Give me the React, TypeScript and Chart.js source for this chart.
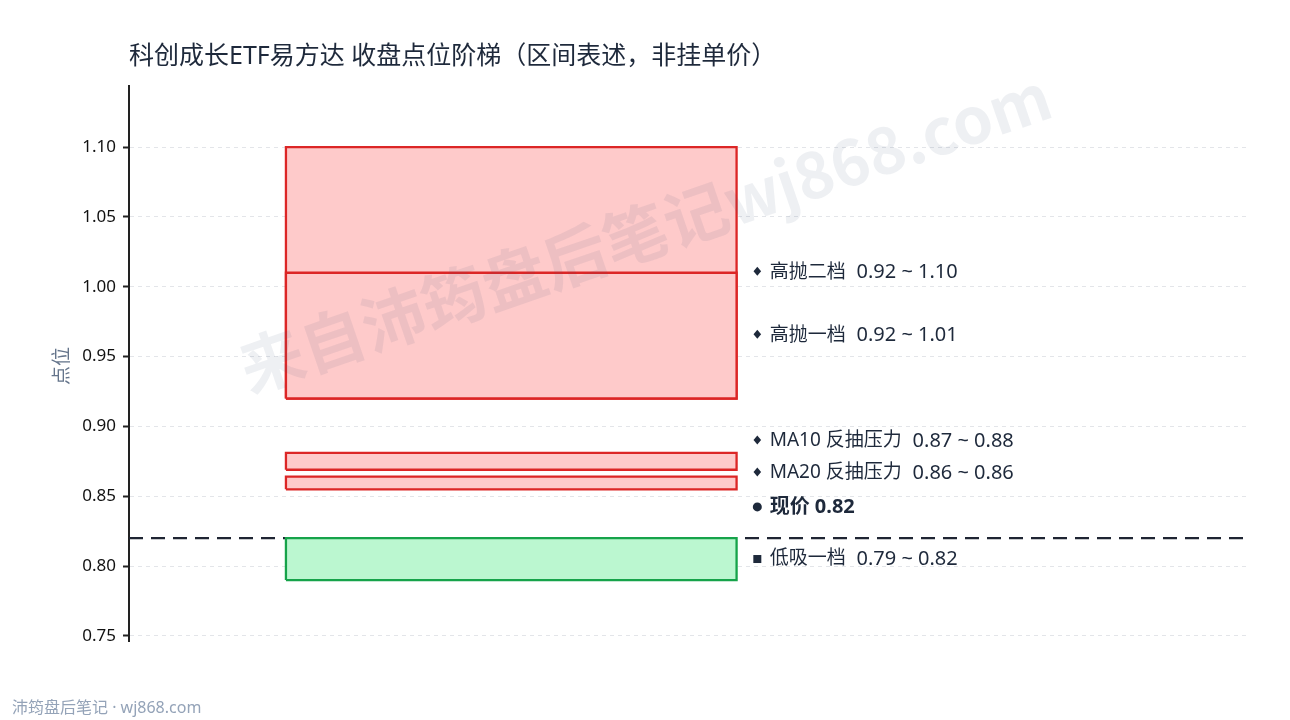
import React, { useEffect, useRef } from "react";
import { Chart, registerables } from "chart.js";

Chart.register(...registerables);

const titleText = "科创成长ETF易方达 收盘点位阶梯（区间表述，非挂单价）";
const yAxisTitle = "点位";
const footerText = "沛筠盘后笔记 · wj868.com";
const watermarkText = "来自沛筠盘后笔记wj868.com";

// zones: low / high
const zoneNames = ["高抛二档", "高抛一档", "MA10 反抽压力", "MA20 反抽压力", "低吸一档"];
const zoneLow = [0.92, 0.92, 0.869, 0.855, 0.79];
const zoneHigh = [1.1, 1.01, 0.881, 0.864, 0.82];
const zoneKind = ["red", "red", "red", "red", "green"];
const zoneLabelLow = ["0.92", "0.92", "0.87", "0.86", "0.79"];
const zoneLabelHigh = ["1.10", "1.01", "0.88", "0.86", "0.82"];
const zoneLabelLevel = [1.011, 0.966, 0.8903, 0.8674, 0.8058];
const zoneMarker = ["diamond", "diamond", "diamond", "diamond", "square"];

const currentPrice = 0.82;
const currentLabelLevel = 0.8431;

const boxStartX = 0.14;
const boxEndX = 0.542;
const labelMarkerX = 0.5605;
const labelTextX = 0.5715;

const yMin = 0.7464;
const yMax = 1.1437;
const yStep = 0.05;

const FONT = '"Noto Sans", "Noto Sans CJK SC", sans-serif';
const CJK = '"Noto Sans CJK SC", "Noto Sans", sans-serif';

export default function App() {
  const ref = useRef<HTMLCanvasElement | null>(null);

  useEffect(() => {
    document.body.style.margin = "0";
    const canvas = ref.current;
    if (!canvas) return;

    const datasets: any[] = [];
    for (let i = 0; i < zoneNames.length; i++) {
      const red = zoneKind[i] === "red";
      datasets.push({
        label: zoneNames[i],
        data: [
          { x: boxStartX, y: zoneLow[i] },
          { x: boxEndX, y: zoneLow[i] },
          { x: boxEndX, y: zoneHigh[i] },
          { x: boxStartX, y: zoneHigh[i] },
          { x: boxStartX, y: zoneLow[i] },
        ],
        showLine: true,
        fill: "shape",
        backgroundColor: red ? "#fecaca" : "#bbf7d0",
        borderColor: red ? "#dc2626" : "#16a34a",
        borderWidth: 2.3,
        pointRadius: 0,
        tension: 0,
      });
    }
    // reverse so the first zone (outer) gets drawn first and inner on top
    datasets.reverse();
    datasets.push({
      label: "现价",
      data: [
        { x: 0, y: currentPrice },
        { x: 1, y: currentPrice },
      ],
      showLine: true,
      fill: false,
      borderColor: "#1f2533",
      borderWidth: 2.2,
      borderDash: [14, 8],
      pointRadius: 0,
    });

    const overlay = {
      id: "overlay",
      beforeDraw(chart: any) {
        const ctx = chart.ctx;
        ctx.save();
        ctx.fillStyle = "#ffffff";
        ctx.fillRect(0, 0, chart.width, chart.height);
        ctx.restore();
      },
      afterDatasetsDraw(chart: any) {
        const ctx = chart.ctx;
        const xs = chart.scales.x;
        const ys = chart.scales.y;
        // watermark
        ctx.save();
        ctx.translate(645, 232);
        ctx.rotate((-19 * Math.PI) / 180);
        ctx.font = `bold 64px ${CJK}`;
        ctx.fillStyle = "rgba(71, 85, 120, 0.09)";
        ctx.textAlign = "center";
        ctx.textBaseline = "middle";
        ctx.fillText(watermarkText, 0, 0);
        ctx.restore();

        // labels
        ctx.save();
        ctx.fillStyle = "#1e293b";
        ctx.textBaseline = "middle";
        ctx.textAlign = "left";
        const mx = xs.getPixelForValue(labelMarkerX);
        const tx = xs.getPixelForValue(labelTextX);
        for (let i = 0; i < zoneNames.length; i++) {
          const y = ys.getPixelForValue(zoneLabelLevel[i]);
          if (zoneMarker[i] === "diamond") {
            ctx.beginPath();
            ctx.moveTo(mx, y - 4.5);
            ctx.lineTo(mx + 3.8, y);
            ctx.lineTo(mx, y + 4.5);
            ctx.lineTo(mx - 3.8, y);
            ctx.closePath();
            ctx.fill();
          } else {
            ctx.fillRect(mx - 4, y - 3, 8, 8);
          }
          ctx.font = `19px ${FONT}`;
          const head = `${zoneNames[i]}  `;
          ctx.fillText(head, tx, y + 1);
          const hw = ctx.measureText(head).width;
          ctx.font = `20px ${FONT}`;
          ctx.fillText(`${zoneLabelLow[i]} ~ ${zoneLabelHigh[i]}`, tx + hw + 1, y + 1);
        }
        const cy = ys.getPixelForValue(currentLabelLevel);
        ctx.beginPath();
        ctx.arc(mx, cy + 1, 4.5, 0, Math.PI * 2);
        ctx.fill();
        ctx.font = `bold 20px ${FONT}`;
        ctx.fillText(`现价 ${currentPrice.toFixed(2)}`, tx, cy + 1);
        ctx.restore();
      },
      afterDraw(chart: any) {
        const ctx = chart.ctx;
        ctx.save();
        ctx.fillStyle = "#1e293b";
        ctx.font = `25px ${FONT}`;
        ctx.textBaseline = "middle";
        ctx.textAlign = "left";
        ctx.fillText(titleText, 129, 57);

        ctx.fillStyle = "#94a3b8";
        ctx.font = `16px ${FONT}`;
        ctx.fillText(footerText, 12, 708);

        ctx.translate(63, 366);
        ctx.rotate(-Math.PI / 2);
        ctx.textAlign = "center";
        ctx.fillStyle = "#64748b";
        ctx.font = `19px ${FONT}`;
        ctx.fillText(yAxisTitle, 0, 0);
        ctx.restore();
      },
    };

    const chart = new Chart(canvas, {
      type: "scatter",
      data: { datasets },
      options: {
        animation: false,
        responsive: false,
        devicePixelRatio: 1,
        layout: { padding: { left: 0, top: 86, right: 40, bottom: 79 } },
        plugins: {
          legend: { display: false },
          tooltip: { enabled: false },
          title: { display: false },
        },
        scales: {
          x: {
            type: "linear",
            display: false,
            min: 0,
            max: 1,
          },
          y: {
            type: "linear",
            min: yMin,
            max: yMax,
            afterFit(scale: any) {
              scale.width = 129;
            },
            ticks: {
              stepSize: yStep,
              includeBounds: false,
              padding: 7,
              color: "#111111",
              font: { family: FONT, size: 17 },
              callback: (v: any) => Number(v).toFixed(2),
            },
            grid: {
              color: "#e3e5e9",
              lineWidth: 1,
              tickLength: 6,
              tickColor: "#222222",
              tickWidth: 2,
              tickBorderDash: [],
            },
            border: {
              display: true,
              color: "#222222",
              width: 2,
              dash: [4, 4],
            },
          },
        },
      } as any,
      plugins: [overlay],
    });

    return () => chart.destroy();
  }, []);

  return (
    <div style={{ width: 1290, height: 720 }}>
      <canvas ref={ref} width={1290} height={720} />
    </div>
  );
}
